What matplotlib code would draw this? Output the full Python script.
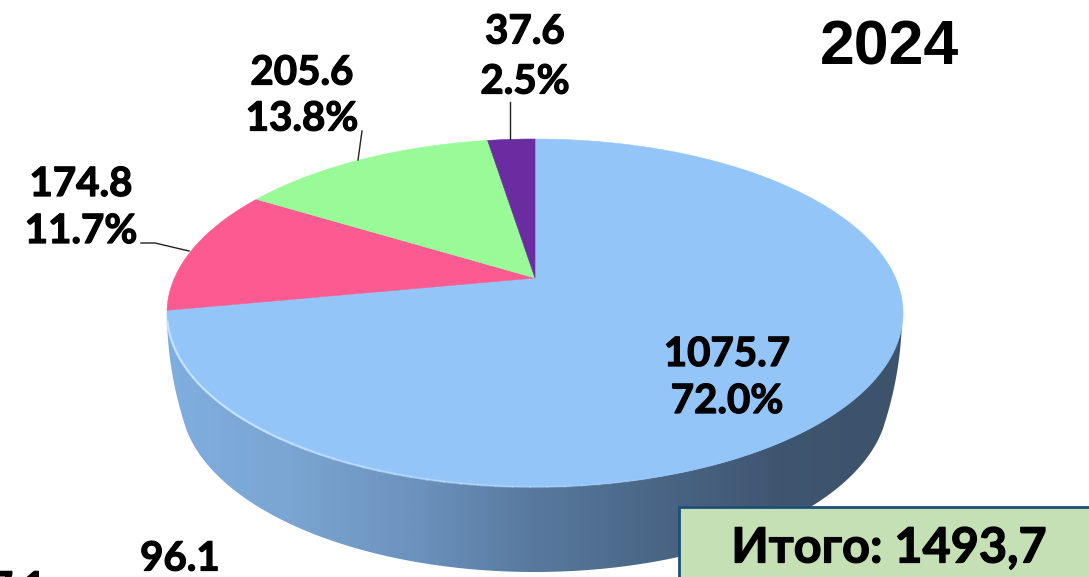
import numpy as np
import matplotlib
matplotlib.use("Agg")
import matplotlib.pyplot as plt
import matplotlib.patheffects as pe
from matplotlib.patches import Polygon, Rectangle
from matplotlib.colors import LinearSegmentedColormap

# Data
values = [1075.7, 174.8, 205.6, 37.6]
colors = ["#94C5F8", "#FB5B90", "#98FB98", "#6A2CA0"]
labels = ["1075.7\n72.0%", "174.8\n11.7%", "205.6\n13.8%", "37.6\n2.5%"]
year = "2024"
total_text = "Итого: 1493,7"
cut_labels = ["96.1", "7.1"]

W, H = 1089, 577
fig = plt.figure(figsize=(W / 100, H / 100), dpi=100, facecolor="white")
ax = fig.add_axes([0, 0, 1, 1])
ax.set_xlim(0, W)
ax.set_ylim(H, 0)
ax.axis("off")

# Perspective projection of a unit disc (angle clockwise from the top)
CX, CY, R, K, A = 535.0, 278.0, 360.5, 0.2011, -111.05


def project(theta):
    u, v = np.sin(theta), np.cos(theta)
    d = 1 + K * v
    return CX + R * u / d, (A * v + CY) / d


def wedge(t0, t1):
    t = np.linspace(t0, t1, 200)
    x, y = project(t)
    return np.column_stack([np.r_[CX, x], np.r_[CY, y]])


# Side wall: front edge of the top down to a lower, narrower ellipse
s = np.linspace(0, np.pi, 300)
top_x = 534.5 + 367.5 * np.cos(s)
top_y = 313 + 174 * np.sin(s)
s0 = np.arcsin(32 / 174)
sb = np.linspace(s0, np.pi - s0, 300)
bot_x = 534.5 + 354 * np.cos(sb)
bot_y = 398 + 174 * np.sin(sb)
yj = np.linspace(313, 430, 40)
off = 367.5 - 19.5 * ((yj - 313) / 117) ** 2
outer_x = np.r_[534.5 + off, bot_x, 534.5 - off[::-1]]
outer_y = np.r_[yj, bot_y, yj[::-1]]
side_poly = np.column_stack([np.r_[top_x, outer_x[::-1]], np.r_[top_y, outer_y[::-1]]])
side_patch = Polygon(side_poly, closed=True, fc="none", ec="none", zorder=1)
ax.add_patch(side_patch)
cmap = LinearSegmentedColormap.from_list(
    "side", ["#7FAEDF", "#7BA5D2", "#6C93BE", "#58799E", "#4A6686", "#3F5670", "#3D526B"])
grad = np.linspace(0, 1, 512).reshape(1, -1)
im = ax.imshow(grad, cmap=cmap, extent=[167, 902, H, 300], aspect="auto", zorder=1)
im.set_clip_path(side_patch)
ax.set_xlim(0, W)
ax.set_ylim(H, 0)

# Top surface
cum = np.cumsum([0] + values) / np.sum(values) * 2 * np.pi
for i, c in enumerate(colors):
    ax.add_patch(Polygon(wedge(cum[i], cum[i + 1]), closed=True, fc=c, ec=c, lw=0.4, zorder=2))

# Pale rim along the front edge, fading towards the right
rim = np.linspace(1.25, np.pi - 0.05, 40)
for a0, a1, f in zip(rim[:-1], rim[1:], np.linspace(0.05, 0.9, 39)):
    seg = np.linspace(a0, a1 + 0.005, 5)
    ax.plot(534.5 + 367.5 * np.cos(seg), 313 + 174 * np.sin(seg), color="#C4E2FC", lw=1.6,
            zorder=3, alpha=min(1.0, f * 1.6), solid_capstyle="butt")

# Leader lines
line_kw = dict(color="#222222", lw=1.0, zorder=4)
ax.plot(np.array([510, 510]), np.array([139, 102]), **line_kw)
ax.plot(np.array([358, 362]), np.array([160, 131]), **line_kw)
ax.plot(np.array([189, 155, 141]), np.array([251, 243, 243]), **line_kw)

# Labels
heavy = [pe.withStroke(linewidth=0.9, foreground="black")]
font = dict(family="Lato", fontweight="bold", fontsize=29, color="black", ha="center", va="center",
            zorder=5, path_effects=heavy)
positions = [(727, 378), (81, 208), (302, 96), (525, 57)]
gaps = [23.5, 23.5, 23, 25]
for (x, y), g, text in zip(positions, gaps, labels):
    first, second = text.split("\n")
    ax.text(x, y - g, first, **font)
    ax.text(x, y + g, second, **font)

ax.text(180, 559, cut_labels[0], **font)
ax.text(18, 589, cut_labels[1], clip_on=True, **font)

ax.text(890, 48, year, family="Liberation Sans", fontweight="bold", fontsize=45,
        color="black", ha="center", va="center", zorder=5)

# Total box
ax.add_patch(Rectangle((679, 507), 430, 90, fc="#C5E0B4", ec="#1F4E79", lw=2, zorder=6))
ax.text(889, 548, total_text, family="Lato", fontweight="bold", fontsize=35,
        color="black", ha="center", va="center", zorder=7, path_effects=heavy)

fig.savefig("out.png", dpi=100)
